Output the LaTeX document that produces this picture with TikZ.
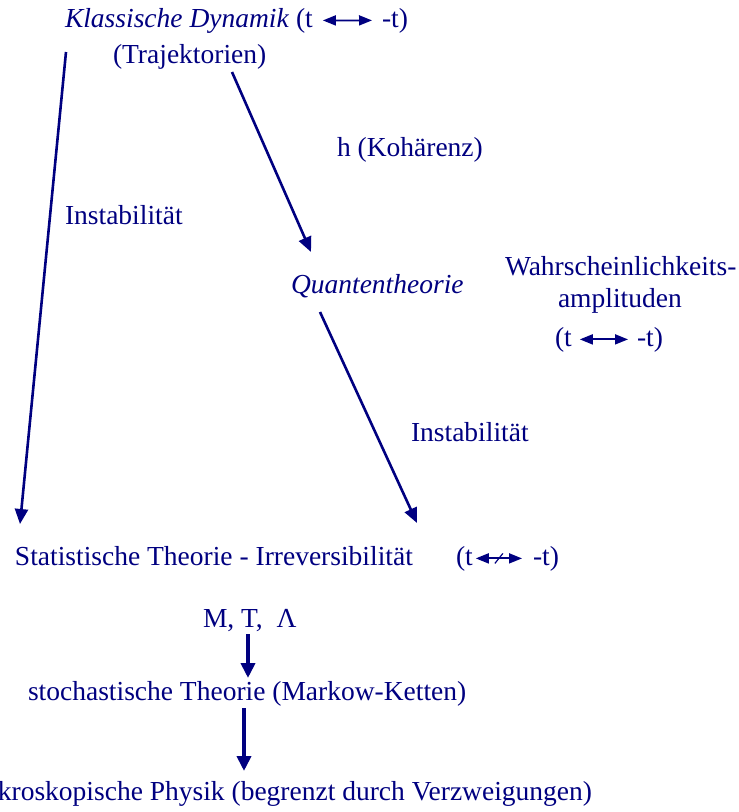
\documentclass[tikz,border=0pt]{standalone}
\usepackage{fontspec}
\setmainfont{Liberation Serif}
\usetikzlibrary{arrows.meta, positioning, calc}

\definecolor{ink}{RGB}{0,0,128}

\begin{document}
\begin{tikzpicture}[
        x=1pt, y=-1pt,
        txt/.style={inner sep=0pt, outer sep=0pt, text=ink, font=\fontsize{27.5}{33}\selectfont, anchor=base west},
        rel/.style={-{Triangle[length=15pt, width=13pt]}, line width=2.6pt, draw=ink},
        down/.style={-{Triangle[length=15pt, width=14pt]}, line width=3.8pt, draw=ink},
        tflip/.style={{Triangle[length=13pt, width=10pt]}-{Triangle[length=13pt, width=10pt]}, line width=1.8pt, draw=ink}
    ]
        \useasboundingbox (0,0) rectangle (739,812);

        % ----------------------------------------------------
        % TEXT BLOCKS
        % ----------------------------------------------------
        \node[txt] (klass) at (65, 27) {\textit{Klassische Dynamik} (t};
        \node[txt] (klassR) at (382, 27) {-t)};
        \node[txt] (traj) at (113, 63) {(Trajektorien)};

        \node[txt] (koh) at (337, 156) {h (Koh\"arenz)};
        \node[txt] (instL) at (65, 224) {Instabilit\"at};

        \node[txt] (quant) at (291, 293) {\textit{Quantentheorie}};
        \node[txt] (wahr) at (505, 275) {Wahrscheinlichkeits-};
        \node[txt] (ampl) at (558, 307) {amplituden};
        \node[txt] (amplL) at (555, 346) {(t};
        \node[txt] (amplR) at (637, 346) {-t)};

        \node[txt] (instR) at (411, 441) {Instabilit\"at};

        \node[txt] (stat) at (15, 565) {Statistische Theorie - Irreversibilit\"at};
        \node[txt] (statL) at (456, 565) {(t};
        \node[txt] (statR) at (533, 565) {-t)};

        \node[txt] (mtl) at (203, 627) {M, T,\ \ Λ};
        \node[txt] (stoch) at (28, 700) {stochastische Theorie (Markow-Ketten)};
        \node[txt, anchor=base east] (makro) at (592, 800) {Makroskopische Physik (begrenzt durch Verzweigungen)};

        % ----------------------------------------------------
        % ARROW ENDS
        % ----------------------------------------------------
        \coordinate (cA) at (66, 52);
        \coordinate (cB) at (20, 524);
        \coordinate (cC) at (232, 72);
        \coordinate (cD) at (311, 252);
        \coordinate (cE) at (320, 312);
        \coordinate (cF) at (417, 523);

        % ----------------------------------------------------
        % ARROWS
        % ----------------------------------------------------
        \draw[rel] (cA) -- (cB);
        \draw[rel] (cC) -- (cD);
        \draw[rel] (cE) -- (cF);

        \draw[down] (248, 634) -- (248, 678);
        \draw[down] (244, 708) -- (244, 771);

        % time reversal marks
        \draw[tflip] ([xshift=10pt]klass.east) -- ([xshift=-10pt]klassR.west);
        \draw[tflip] ([xshift=8pt]amplL.east) -- ([xshift=-9pt]amplR.west);
        \draw[tflip] ([xshift=3pt]statL.east) -- ([xshift=-11pt]statR.west) coordinate[midway] (smid);
        \draw[ink, line width=1.2pt] ([shift={(-4, 5)}]smid) -- ([shift={(4, -5)}]smid);

    \end{tikzpicture}
\end{document}
